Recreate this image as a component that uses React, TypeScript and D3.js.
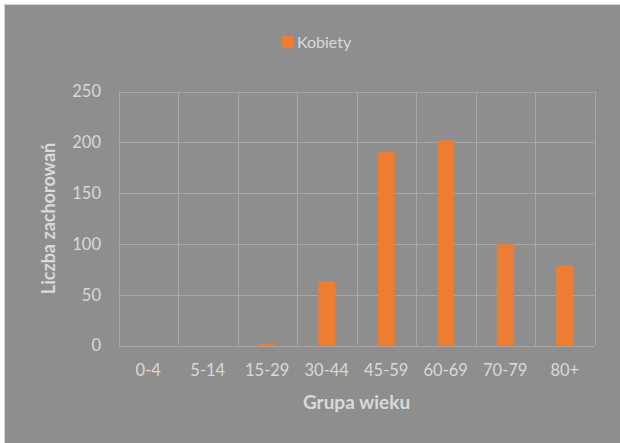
import React from "react";
import * as d3 from "d3";

const categories = ["0-4", "5-14", "15-29", "30-44", "45-59", "60-69", "70-79", "80+"];
const kobiety = [0, 0, 2, 63, 191, 202, 100, 79];
const yTicks = [0, 50, 100, 150, 200, 250];
const seriesName = "Kobiety";
const xTitle = "Grupa wieku";
const yTitle = "Liczba zachorowań";

const W = 620;
const H = 443;
const plot = { left: 118.5, right: 594.5, top: 91.5, bottom: 345.5 };
const BG = "#8e8e8e";
const TEXT = "#d9d9d9";
const GRID = "#a8a8a8";
const ORANGE = "#ED7D31";
const FONT = "Lato, 'Open Sans', sans-serif";

export default function App() {
  const x = d3.scaleBand<string>().domain(categories).range([plot.left, plot.right]).paddingInner(0).paddingOuter(0);
  const y = d3.scaleLinear().domain([0, 250]).range([plot.bottom, plot.top]);
  const bw = x.bandwidth() / 3.5;
  const cx = (c: string) => (x(c) as number) + x.bandwidth() / 2;
  const midX = (plot.left + plot.right) / 2;
  const midY = (plot.top + plot.bottom) / 2;

  return (
    <svg width={W} height={H} style={{ position: "absolute", left: 0, top: 0 }} fontFamily={FONT}>
      <rect x={0} y={0} width={W} height={H} fill="#ffffff" />
      <rect x={4.5} y={4.5} width={W} height={H} fill={BG} stroke="#d4d4d4" strokeWidth={1} />
      {/* gridlines */}
      {yTicks.map((t) => (
        <line key={"h" + t} x1={plot.left} x2={plot.right} y1={Math.round(y(t)) + 0.5} y2={Math.round(y(t)) + 0.5} stroke={GRID} strokeWidth={1} />
      ))}
      {categories.map((c) => (
        <line key={"v" + c} x1={Math.round(x(c) as number) + 0.5} x2={Math.round(x(c) as number) + 0.5} y1={plot.top} y2={plot.bottom} stroke={GRID} strokeWidth={1} />
      ))}
      <line x1={Math.round(plot.right) + 0.5} x2={Math.round(plot.right) + 0.5} y1={plot.top} y2={plot.bottom} stroke={GRID} strokeWidth={1} />
      {/* bars */}
      {categories.map((c, i) => (
        <rect key={"b" + c} x={cx(c) - bw / 2} width={bw} y={y(kobiety[i])} height={y(0) - y(kobiety[i])} fill={ORANGE} />
      ))}
      {/* y ticks */}
      {yTicks.map((t) => (
        <text key={"yt" + t} x={101} y={y(t)} dy="0.36em" textAnchor="end" fill={TEXT} fontSize={16.5}>
          {t}
        </text>
      ))}
      {/* x ticks */}
      {categories.map((c) => (
        <text key={"xt" + c} x={cx(c)} y={375.5} textAnchor="middle" fill={TEXT} fontSize={16.5}>
          {c}
        </text>
      ))}
      {/* axis titles */}
      <text x={midX} y={409} textAnchor="middle" fill={TEXT} fontSize={19} fontWeight="bold">
        {xTitle}
      </text>
      <text transform={`translate(55,${midY}) rotate(-90)`} textAnchor="middle" fill={TEXT} fontSize={18} fontWeight="bold">
        {yTitle}
      </text>
      {/* legend */}
      <rect x={282} y={36} width={11.5} height={11.5} fill={ORANGE} />
      <text x={297} y={48} fill={TEXT} fontSize={16}>
        {seriesName}
      </text>
    </svg>
  );
}
